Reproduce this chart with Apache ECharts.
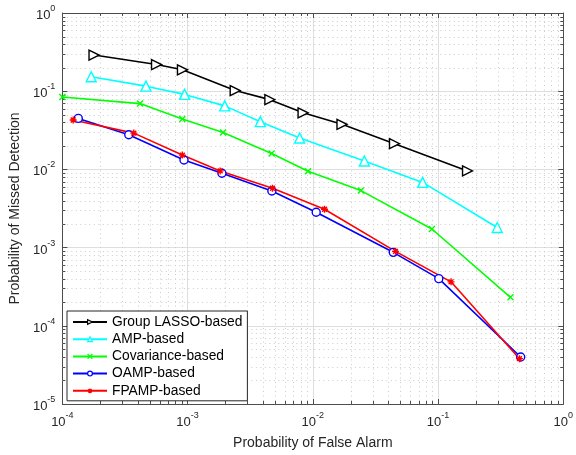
<!DOCTYPE html>
<html>
<head>
<meta charset="utf-8">
<script src="https://cdn.jsdelivr.net/npm/echarts@6/dist/echarts.min.js"></script>
<style>
  html, body { margin: 0; padding: 0; background: #fff; }
  #chart { width: 576px; height: 455px; }
</style>
</head>
<body>
<div id="chart"></div>
<script>
// Detection performance: missed-detection vs false-alarm probability
const seriesNames = ['Group LASSO-based', 'AMP-based', 'Covariance-based', 'OAMP-based', 'FPAMP-based'];

const lassoPfa = [1.79e-4, 5.65e-4, 9.1e-4, 2.4e-3, 4.54e-3, 8.36e-3, 0.0171, 0.0449, 0.172];
const lassoPmd = [0.29, 0.219, 0.188, 0.102, 0.078, 0.053, 0.0377, 0.0213, 0.00957];

const ampPfa = [1.70e-4, 4.65e-4, 9.46e-4, 1.98e-3, 3.81e-3, 7.85e-3, 0.0258, 0.0753, 0.297];
const ampPmd = [0.153, 0.116, 0.091, 0.0649, 0.0408, 0.0252, 0.0128, 0.00682, 0.00181];

const covPfa = [1.0e-4, 4.17e-4, 9.08e-4, 1.92e-3, 4.69e-3, 9.15e-3, 0.0242, 0.0893, 0.379];
const covPmd = [0.0843, 0.0694, 0.044, 0.0297, 0.0160, 0.00946, 0.00536, 0.00173, 2.31e-4];

const oampPfa = [1.34e-4, 3.39e-4, 9.36e-4, 1.88e-3, 4.71e-3, 0.01064, 0.0439, 0.1014, 0.457];
const oampPmd = [0.0449, 0.0277, 0.0132, 0.00893, 0.0053, 0.00283, 8.7e-4, 4.01e-4, 3.99e-5];

const fpampPfa = [1.22e-4, 3.72e-4, 9.08e-4, 1.82e-3, 4.77e-3, 0.0124, 0.0457, 0.127, 0.447];
const fpampPmd = [0.0428, 0.0291, 0.01524, 0.00957, 0.00573, 0.00309, 8.96e-4, 3.65e-4, 3.8e-5];

const seriesColors = ['#000000', '#00ffff', '#00ff00', '#0000ff', '#ff0000'];
const hollowMarker = [true, true, false, true, false];

// axis ranges (decades)
const xMin = 1e-4, xMax = 1;
const yMin = 1e-5, yMax = 1;

const FONT = '"Liberation Sans", Arial, Helvetica, sans-serif';
const AXIS_COLOR = '#4d4d4d';
const TEXT_COLOR = '#262626';

// minor grid positions 2..9 x 10^n inside each decade
function minorValues(lo, hi) {
  const out = [];
  for (let e = Math.round(Math.log10(lo)); e < Math.round(Math.log10(hi)); e++) {
    for (let k = 2; k <= 9; k++) out.push(k * Math.pow(10, e));
  }
  return out;
}
const xMinor = minorValues(xMin, xMax);
const yMinor = minorValues(yMin, yMax);

function pairs(xs, ys) { return xs.map((x, i) => [x, ys[i]]); }

function powLabel(v) {
  const e = Math.round(Math.log10(v));
  return '{b|10}{s|' + e + '}';
}
const richPow = {
  b: { fontSize: 13, fontFamily: FONT, color: TEXT_COLOR, lineHeight: 18, verticalAlign: 'bottom' },
  s: { fontSize: 9, fontFamily: FONT, color: TEXT_COLOR, lineHeight: 10, verticalAlign: 'top' }
};

const chart = echarts.init(document.getElementById('chart'), null, { renderer: 'canvas' });

const MINOR_GRID = { stroke: '#cccccc', lineWidth: 1, lineDash: [1, 3.5] };
const MINOR_TICK = { stroke: AXIS_COLOR, lineWidth: 1 };

function xMinorRender(params, api) {
  const cs = params.coordSys;
  const x = Math.round(api.coord([api.value(0), yMax])[0]) + 0.5;
  return {
    type: 'group',
    children: [
      { type: 'line', shape: { x1: x, y1: cs.y, x2: x, y2: cs.y + cs.height }, style: MINOR_GRID },
      { type: 'line', shape: { x1: x, y1: cs.y + cs.height, x2: x, y2: cs.y + cs.height - 3 }, style: MINOR_TICK },
      { type: 'line', shape: { x1: x, y1: cs.y, x2: x, y2: cs.y + 3 }, style: MINOR_TICK }
    ]
  };
}
function yMinorRender(params, api) {
  const cs = params.coordSys;
  const y = Math.round(api.coord([xMin, api.value(1)])[1]) + 0.5;
  return {
    type: 'group',
    children: [
      { type: 'line', shape: { x1: cs.x, y1: y, x2: cs.x + cs.width, y2: y }, style: MINOR_GRID },
      { type: 'line', shape: { x1: cs.x, y1: y, x2: cs.x + 3, y2: y }, style: MINOR_TICK },
      { type: 'line', shape: { x1: cs.x + cs.width, y1: y, x2: cs.x + cs.width - 3, y2: y }, style: MINOR_TICK }
    ]
  };
}

const starPath = 'path://M5,0L5,10M0,5L10,5M1.5,1.5L8.5,8.5M8.5,1.5L1.5,8.5';
const crossPath = 'path://M0,0L10,10M10,0L0,10';

function lineSeries(name, color, data, symbol, size, extra) {
  return Object.assign({
    name: name,
    type: 'line',
    data: data,
    symbol: symbol,
    symbolSize: size,
    showAllSymbol: true,
    z: 3,
    lineStyle: { color: color, width: 1.6 },
    itemStyle: { color: color, borderColor: color, borderWidth: 1.4 },
    emphasis: { disabled: true },
    animation: false
  }, extra || {});
}

const majorAxisCommon = {
  type: 'log',
  logBase: 10,
  interval: 1,
  axisLine: { show: true, onZero: false, lineStyle: { color: AXIS_COLOR, width: 1 } },
  axisTick: { show: true, inside: true, length: 5, lineStyle: { color: AXIS_COLOR } },
  minorTick: { show: false },
  minorSplitLine: { show: false }
};

const option = {
  animation: false,
  backgroundColor: '#ffffff',
  grid: { left: 59, right: 12, top: 13, bottom: 45, containLabel: false },
  xAxis: [
    Object.assign({}, majorAxisCommon, {
      position: 'bottom',
      min: xMin, max: xMax,
      name: 'Probability of False Alarm',
      nameLocation: 'middle',
      nameGap: 32,
      nameTextStyle: { fontSize: 14, fontFamily: FONT, color: TEXT_COLOR },
      axisLabel: { formatter: powLabel, rich: richPow, margin: 7 },
      splitLine: { show: true, lineStyle: { color: '#dedede', width: 1 } }
    }),
    Object.assign({}, majorAxisCommon, {
      position: 'top',
      min: xMin, max: xMax,
      axisLabel: { show: false },
      splitLine: { show: false }
    })
  ],
  yAxis: [
    Object.assign({}, majorAxisCommon, {
      position: 'left',
      min: yMin, max: yMax,
      name: 'Probability of Missed Detection',
      nameLocation: 'middle',
      nameGap: 40,
      nameTextStyle: { fontSize: 14, fontFamily: FONT, color: TEXT_COLOR },
      axisLabel: { formatter: powLabel, rich: richPow, margin: 7 },
      splitLine: { show: true, lineStyle: { color: '#dedede', width: 1 } }
    }),
    Object.assign({}, majorAxisCommon, {
      position: 'right',
      min: yMin, max: yMax,
      axisLabel: { show: false },
      splitLine: { show: false }
    })
  ],
  legend: {
    data: seriesNames.map((n, i) => ({
      name: n,
      itemStyle: hollowMarker[i]
        ? { color: '#ffffff', borderColor: seriesColors[i], borderWidth: 1.2 }
        : { color: seriesColors[i], borderColor: seriesColors[i], borderWidth: 1.2 }
    })),
    orient: 'vertical',
    left: 67,
    top: 311,
    padding: [4, 5, 3, 5],
    itemWidth: 34,
    itemHeight: 6,
    itemGap: 3.2,
    backgroundColor: '#ffffff',
    borderColor: '#262626',
    borderWidth: 1,
    borderRadius: 0,
    textStyle: { fontSize: 13.8, lineHeight: 14, fontFamily: FONT, color: '#000' },
    selectedMode: false
  },
  series: [
    {
      type: 'custom',
      name: 'xMinorGrid',
      xAxisIndex: 0, yAxisIndex: 0,
      z: 1,
      silent: true,
      data: xMinor.map(v => [v, 1e-2]),
      renderItem: xMinorRender
    },
    {
      type: 'custom',
      name: 'yMinorGrid',
      xAxisIndex: 0, yAxisIndex: 0,
      z: 1,
      silent: true,
      data: yMinor.map(v => [1e-2, v]),
      renderItem: yMinorRender
    },
    lineSeries(seriesNames[0], seriesColors[0], pairs(lassoPfa, lassoPmd), 'triangle', 10,
      { symbolRotate: -90, itemStyle: { color: '#ffffff', borderColor: seriesColors[0], borderWidth: 1.4 } }),
    lineSeries(seriesNames[1], seriesColors[1], pairs(ampPfa, ampPmd), 'triangle', 10,
      { itemStyle: { color: '#ffffff', borderColor: seriesColors[1], borderWidth: 1.4 } }),
    lineSeries(seriesNames[2], seriesColors[2], pairs(covPfa, covPmd), crossPath, 6),
    lineSeries(seriesNames[3], seriesColors[3], pairs(oampPfa, oampPmd), 'circle', 8,
      { itemStyle: { color: '#ffffff', borderColor: seriesColors[3], borderWidth: 1.4 } }),
    lineSeries(seriesNames[4], seriesColors[4], pairs(fpampPfa, fpampPmd), starPath, 7)
  ]
};

chart.setOption(option);
</script>
</body>
</html>
